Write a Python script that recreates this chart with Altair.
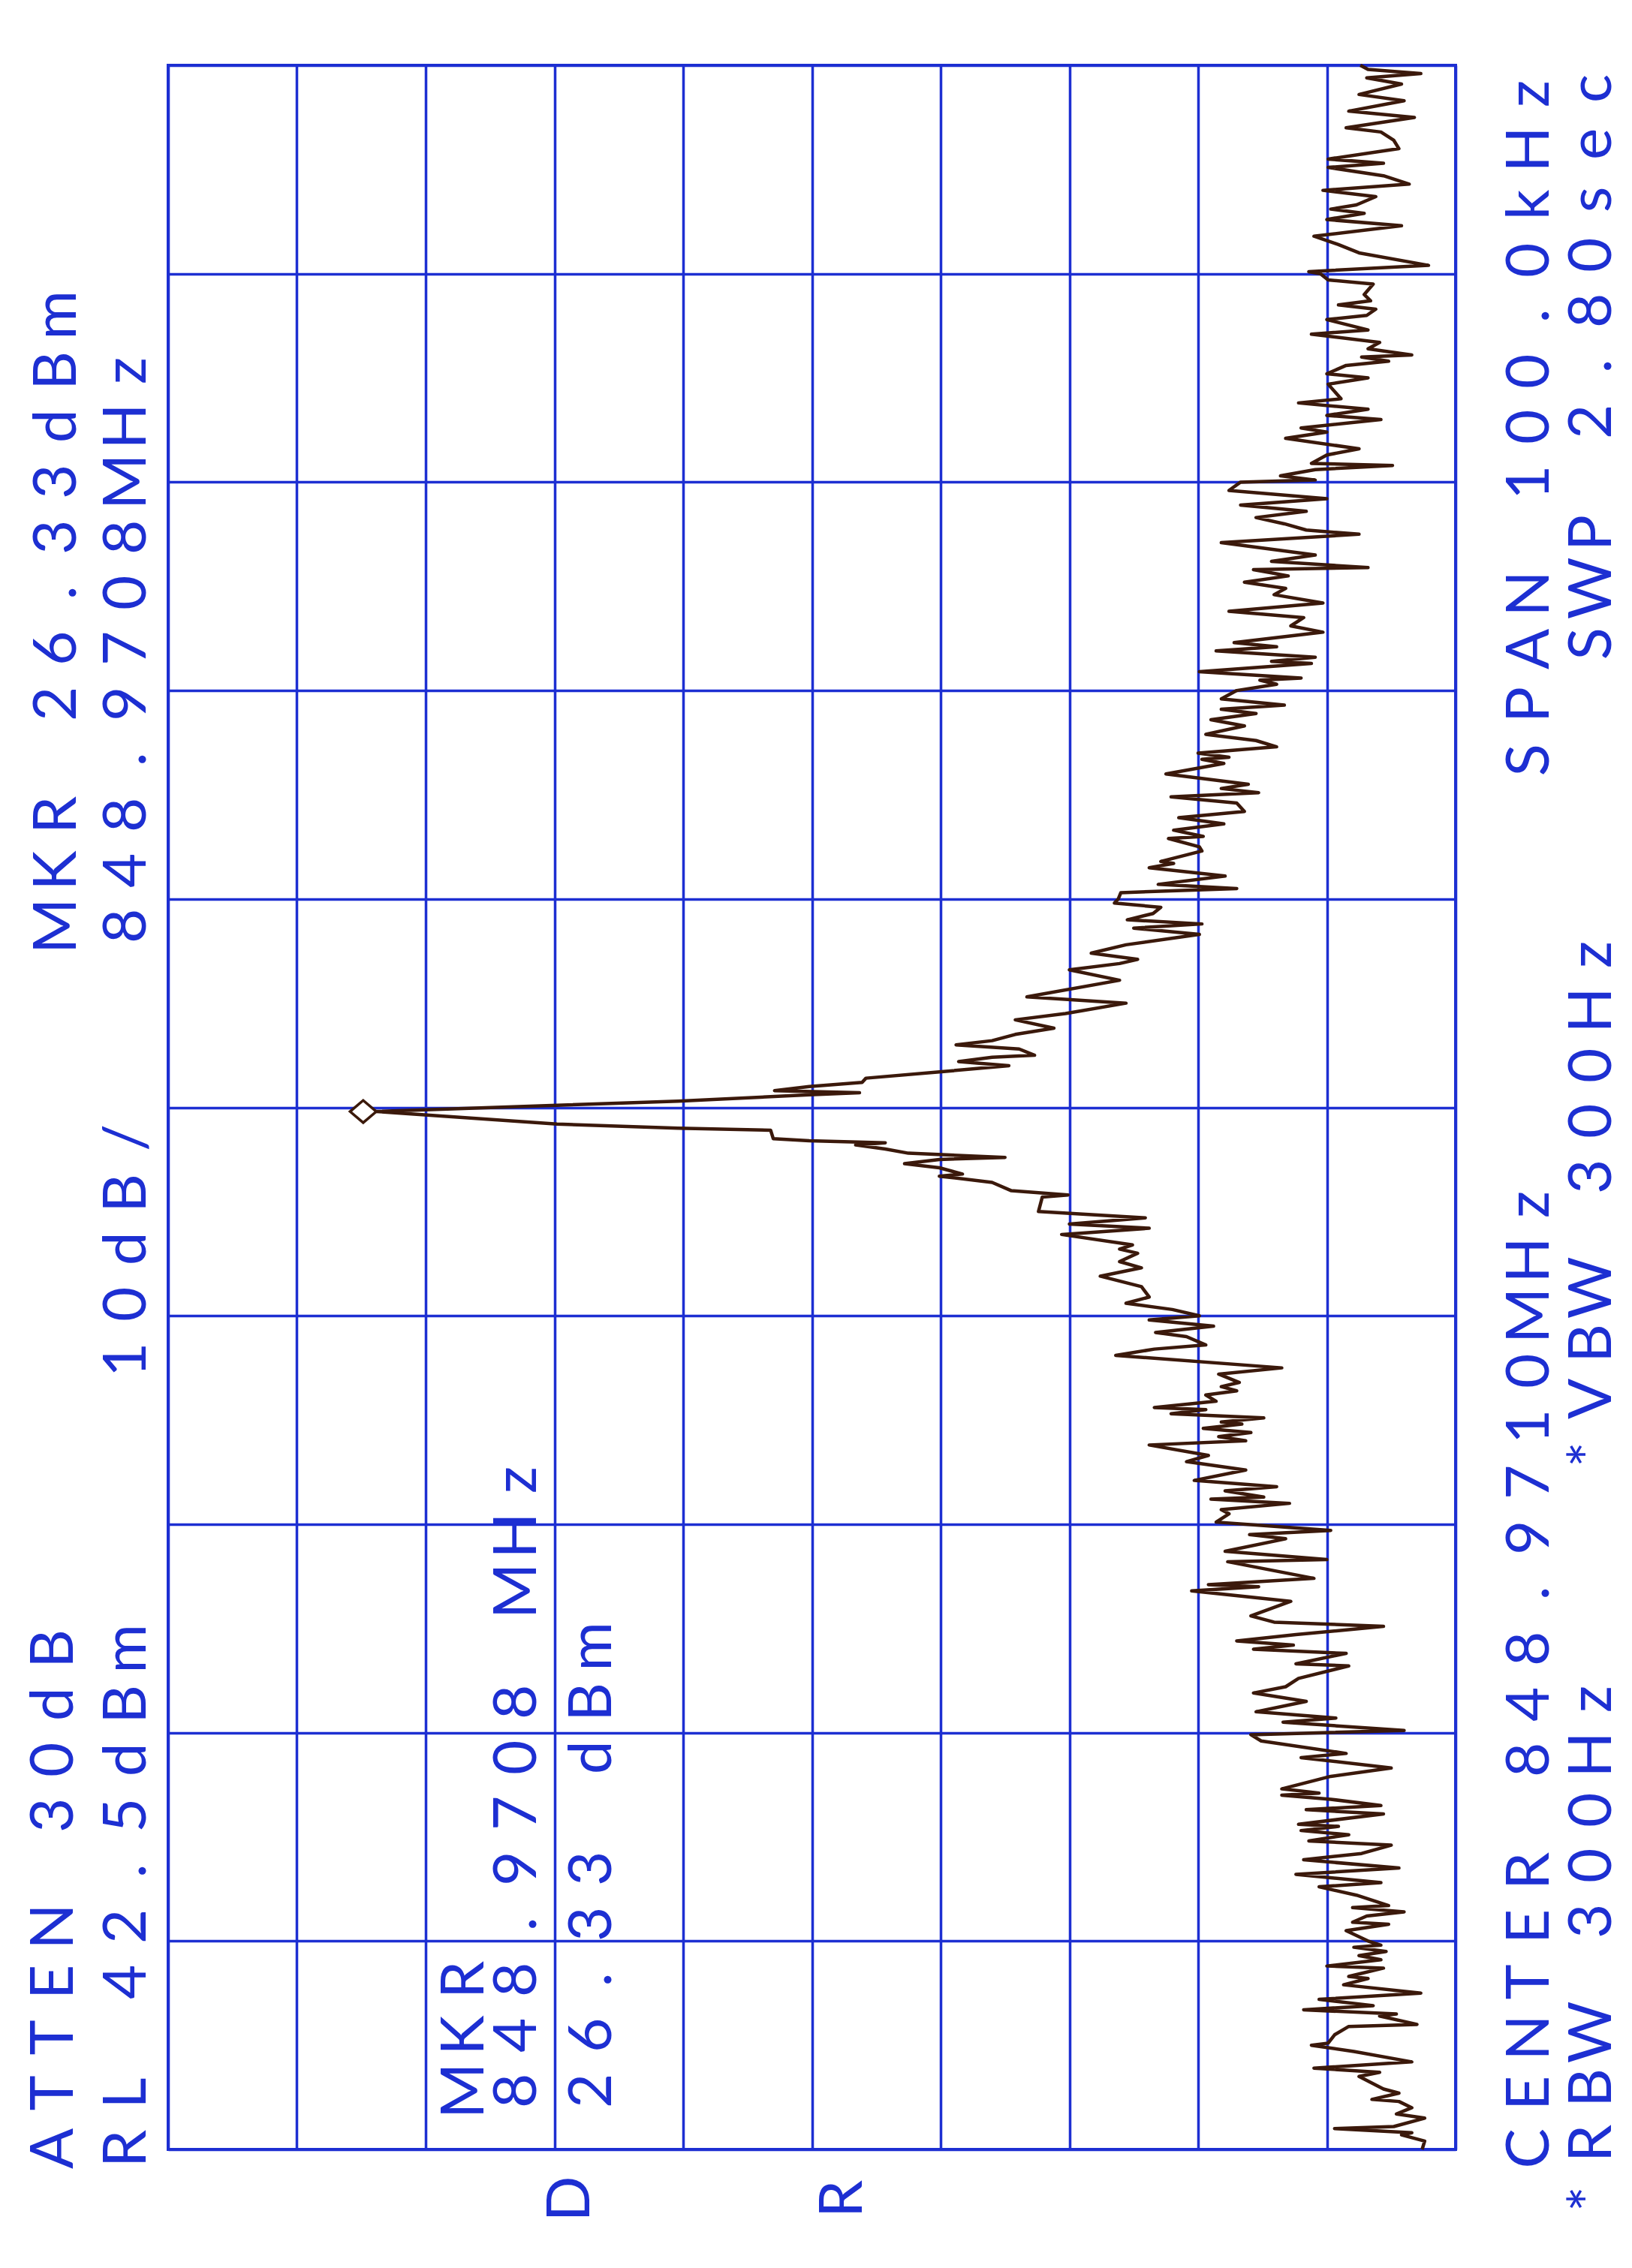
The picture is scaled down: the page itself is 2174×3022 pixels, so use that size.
import altair as alt
import pandas as pd

# ---------------- trace data ----------------
# frequency offset from centre 848.9710 MHz, in kHz (span 100 kHz)
freq_offset_khz = [
    -50.0, -49.6, -49.3, -49.2, -49.0, -48.9, -48.5, -48.3, -48.0, -47.7,
    -47.6, -47.3, -47.1, -46.5, -46.3, -46.1, -45.8, -45.3, -45.0, -44.9,
    -44.5, -44.1, -44.0, -43.6, -43.5, -43.3, -43.1, -42.8, -42.5, -42.1,
    -41.8, -41.7, -41.3, -41.2, -40.9, -40.7, -40.5, -40.3, -40.2, -40.0,
    -39.5, -39.2, -39.1, -38.8, -38.6, -38.4, -38.3, -37.8, -37.4, -37.2,
    -36.8, -36.5, -36.1, -35.8, -35.4, -35.2, -34.9, -34.7, -34.5, -34.4,
    -33.9, -33.7, -33.5, -33.2, -33.0, -32.9, -32.7, -32.1, -31.7, -31.2,
    -31.0, -30.4, -30.1,
    -29.9, -29.5, -29.3, -29.0, -28.5, -28.1, -27.8, -27.4, -26.8, -26.7,
    -26.2, -26.0, -25.8, -25.6, -25.3, -24.9, -24.7, -24.4, -23.7, -23.2,
    -23.0, -22.9, -22.6, -21.8, -21.7, -21.3, -20.7, -20.5, -20.3, -19.9,
    -19.5, -19.3, -19.0, -18.8, -18.7, -18.4, -18.2, -17.9, -17.4, -17.0,
    -16.7, -16.2, -16.0, -15.8, -15.6, -15.4, -15.2, -15.1, -14.9, -14.7,
    -14.5, -14.4, -14.1, -13.8, -13.6, -13.4, -13.2, -12.8, -12.5, -11.9,
    -11.6, -11.4, -11.0, -10.8, -10.5, -10.2, -10.0,
    -9.7, -9.4, -9.1, -8.6, -8.1, -7.7, -7.4, -7.0, -6.8, -6.6,
    -6.1, -5.8, -5.6, -5.3, -5.0, -4.3, -4.2, -4.0, -3.6, -3.3,
    -3.2, -2.9, -2.7, -2.5, -2.4, -2.2, -2.0, -1.8, -1.7, -1.6,
    -1.5, -1.1, -1.0, -0.8, -0.2,
    0.1, 0.3, 0.6, 0.7, 0.8, 1.0, 1.2, 1.4, 1.7, 2.0,
    2.2, 2.4, 2.5, 2.8, 3.0, 3.2, 3.5, 3.8, 4.2, 4.5,
    5.0, 5.3, 6.1, 6.6, 6.9, 7.1, 7.4, 7.8, 8.3, 8.6,
    8.8, 9.0, 9.3, 9.6, 9.8, 10.0,
    10.3, 10.5, 10.7, 11.1, 11.5, 11.7, 11.8, 12.3, 12.5, 12.9,
    13.0, 13.3, 13.6, 13.9, 14.2, 14.6, 14.9, 15.1, 15.3, 15.5,
    16.0, 16.5, 16.7, 16.8, 17.0, 17.3, 17.6, 17.9, 18.3, 18.6,
    18.9, 19.1, 19.3, 19.6, 20.0,
    20.3, 20.5, 20.6, 20.9, 21.3, 21.4, 21.6, 21.9, 22.1, 22.3,
    22.8, 23.1, 23.5, 23.8, 24.2, 24.6, 24.9, 25.2, 25.5, 25.8,
    25.9, 26.2, 26.5, 27.1, 27.5, 27.7, 28.0, 28.3, 28.6, 28.9,
    29.2, 29.6, 30.0,
    30.1, 30.3, 30.6, 30.8, 30.9, 31.3, 31.6, 32.1, 32.4, 32.6,
    33.0, 33.2, 33.5, 33.8, 34.0, 34.7, 35.0, 35.2, 35.6, 35.8,
    36.0, 36.1, 36.4, 36.7, 37.1, 37.3, 37.8, 38.0, 38.3, 38.5,
    38.7, 39.0, 39.5, 39.7, 40.0,
    40.1, 40.4, 41.0, 41.4, 41.8, 42.3, 42.6, 42.9, 43.1, 43.3,
    43.7, 44.0, 44.3, 44.7, 45.1, 45.3, 45.5, 46.0, 46.4, 46.8,
    47.0, 47.5, 47.8, 48.3, 48.6, 49.1, 49.4, 49.6, 49.8, 50.0,
]

level_dbm = [
    -54.9, -55.1, -53.3, -54.1, -48.1, -52.7, -55.1, -52.9, -54.1, -53.1,
    -51.0, -53.1, -51.9, -50.0, -51.6, -46.5, -54.1, -49.6, -46.3, -47.6,
    -48.1, -49.2, -54.5, -51.6, -52.9, -45.7, -51.1, -46.9, -54.8, -48.8,
    -50.7, -49.2, -51.9, -47.5, -51.7, -50.0, -52.1, -49.6, -51.7, -50.7,
    -49.0, -52.3, -49.5, -50.6, -53.5, -49.5, -52.3, -49.8, -46.9, -51.7,
    -45.1, -53.1, -45.7, -50.2, -52.5, -46.1, -49.2, -45.5, -48.4, -45.3,
    -51.9, -45.9, -51.7, -47.8, -44.0, -46.9, -44.0, -47.8, -52.5, -45.5,
    -49.0, -42.4, -41.6,
    -53.5, -44.1, -48.2, -42.0, -45.9, -41.8, -44.3, -45.3, -49.2, -45.1,
    -49.0, -41.8, -44.9, -40.5, -45.1, -51.9, -43.4, -41.6, -44.7, -37.0,
    -42.2, -38.3, -46.5, -39.8, -47.5, -39.6, -44.3, -41.5, -47.8, -38.9,
    -39.9, -39.3, -44.6, -38.5, -42.6, -39.6, -43.6, -37.2, -41.2, -36.6,
    -38.3, -33.7, -41.2, -39.1, -41.6, -37.9, -40.9, -39.3, -42.6, -35.4,
    -38.1, -34.1, -38.9, -38.1, -40.5, -39.3, -40.7, -39.1, -44.0, -31.1,
    -34.1, -38.1, -36.6, -34.2, -38.7, -33.7, -37.6,
    -35.5, -31.9, -33.7, -33.1, -29.9, -33.1, -31.4, -32.8, -31.4, -32.4,
    -26.9, -33.7, -27.5, -33.4, -25.1, -25.4, -27.4, -23.0, -21.5, -17.4,
    -19.2, -17.4, -14.7, -17.4, -22.5, -15.0, -13.2, -10.9, -13.2, -7.3,
    -4.5, -4.3, 2.9, 12.3, 26.33,
    12.3, 2.9, -7.3, -11.2, -4.6, -7.3, -11.4, -11.7, -17.4, -22.8,
    -18.9, -21.5, -24.8, -23.6, -18.7, -21.5, -23.3, -26.3, -23.3, -27.2,
    -31.9, -24.2, -31.4, -27.5, -31.4, -32.8, -29.2, -31.9, -37.6, -32.5,
    -37.8, -32.0, -34.0, -34.6, -31.0, -31.3,
    -31.5, -40.5, -34.4, -39.6, -33.7, -35.6, -34.6, -37.8, -37.6, -35.2,
    -37.9, -35.6, -39.5, -36.0, -41.1, -40.5, -35.4, -42.2, -39.3, -41.4,
    -35.0, -39.5, -37.8, -39.9, -37.5, -43.6, -42.0, -38.1, -41.1, -38.5,
    -42.0, -39.3, -44.2, -39.3, -40.5,
    -43.6, -42.3, -45.5, -37.6, -46.3, -43.2, -46.6, -38.9, -43.6, -40.3,
    -47.2, -44.7, -45.7, -39.9, -47.2, -43.4, -44.3, -41.1, -44.5, -41.8,
    -50.7, -43.2, -46.6, -39.3, -50.0, -45.9, -44.2, -42.0, -45.9, -40.8,
    -47.5, -39.9, -40.8,
    -46.6, -43.9, -46.6, -52.6, -46.3, -47.5, -50.0, -44.3, -47.5, -45.5,
    -51.7, -47.5, -50.7, -45.3, -48.6, -47.6, -50.7, -47.5, -49.0, -52.3,
    -50.2, -54.1, -50.7, -51.6, -46.3, -50.7, -47.5, -50.6, -51.3, -48.4,
    -50.9, -50.4, -51.1, -47.6, -47.0,
    -46.1, -55.4, -50.0, -48.4, -46.5, -53.3, -47.5, -50.4, -47.8, -49.8,
    -51.3, -47.2, -53.9, -51.9, -47.6, -51.9, -47.6, -53.1, -52.7, -51.7,
    -49.0, -54.3, -49.2, -53.5, -50.0, -53.3, -50.6, -54.8, -50.7, -50.1,
]

# marker
marker_offset_khz = [-0.2]
marker_level_dbm = [26.33]

# instrument settings
ref_level_dbm = 42.5
db_per_div = 10
span_khz = 100.0

# annotation texts
label_texts = [
    "ATTEN 30dB", "RL 42.5dBm", "10dB/", "MKR 26.33dBm", "848.9708MHz",
    "CENTER 848.9710MHz", "*RBW 300Hz", "*VBW 300Hz", "SPAN 100.0kHz",
    "SWP 2.80sec", "MKR", "848.9708 MHz", "26.33 dBm", "D", "R",
]

# ---------------- layout (page pixels) ----------------
PX0, PY0, PW, PH = 224, 87, 1715, 2777
BLUE = "#1d2fd2"
BROWN = "#3b190b"
PITCH = 74
# (x centre, y start) of each label on the page
label_pos = [
    (73, 2891), (170, 2891), (170, 1840), (77, 1262), (170, 1262),
    (2039, 2891), (2122, 2958), (2122, 1966), (2039, 1041),
    (2122, 886), (620, 2814), (690, 2814), (790, 2814), (761, 2958), (1124, 2958),
]

x_top = ref_level_dbm
x_bottom = ref_level_dbm - 10 * db_per_div
y_lo, y_hi = -span_khz / 2, span_khz / 2


def px_to_level(px):
    return x_top - (px - PX0) * (x_top - x_bottom) / PW


def py_to_freq(py):
    return y_hi - (py - PY0) * (y_hi - y_lo) / PH


rows = []
for text, (xc, ys) in zip(label_texts, label_pos):
    for i, ch in enumerate(text):
        if ch == " ":
            continue
        rows.append({
            "ch": ch,
            "lvl": px_to_level(xc),
            "frq": py_to_freq(ys - i * PITCH - 0.38 * PITCH),
        })
text_df = pd.DataFrame(rows)

trace_df = pd.DataFrame({
    "idx": list(range(len(level_dbm))),
    "frq": freq_offset_khz,
    "lvl": level_dbm,
})
marker_df = pd.DataFrame({"frq": marker_offset_khz, "lvl": marker_level_dbm})

x_scale = alt.Scale(domain=[x_top, x_bottom], nice=False, zero=False)
y_scale = alt.Scale(domain=[y_lo, y_hi], nice=False, zero=False)

x_axis = alt.Axis(
    values=[x_top - db_per_div * i for i in range(11)], grid=True, labels=False,
    ticks=False, domain=False, title=None, gridColor=BLUE, gridWidth=3.5,
    gridOpacity=1,
)
y_axis = alt.Axis(
    values=[y_lo + 10 * i for i in range(11)], grid=True, labels=False,
    ticks=False, domain=False, title=None, gridColor=BLUE, gridWidth=3.5,
    gridOpacity=1,
)

trace = alt.Chart(trace_df).mark_line(
    color=BROWN, strokeWidth=4.5, strokeJoin="round"
).encode(
    x=alt.X("lvl:Q", scale=x_scale, axis=x_axis),
    y=alt.Y("frq:Q", scale=y_scale, axis=y_axis),
    order="idx:Q",
)

marker = alt.Chart(marker_df).mark_point(
    shape="M 0 0 L -1 -0.85 L -2 0 L -1 0.85 Z",
    size=1225, filled=True, fill="white", stroke=BROWN, strokeWidth=3.5,
    opacity=1,
).encode(
    x=alt.X("lvl:Q", scale=x_scale),
    y=alt.Y("frq:Q", scale=y_scale),
)

texts = alt.Chart(text_df).mark_text(
    angle=270, align="center", baseline="middle", font="Lato",
    fontWeight=400, fontSize=80, color=BLUE,
).encode(
    x=alt.X("lvl:Q", scale=x_scale),
    y=alt.Y("frq:Q", scale=y_scale),
    text="ch:N",
)

chart = alt.layer(trace, marker, texts).properties(
    width=PW, height=PH,
    autosize=alt.AutoSizeParams(type="none"),
    padding={"left": PX0 - 8, "top": PY0 - 8, "right": 226, "bottom": 120},
    background="white",
).configure_view(stroke=BLUE, strokeWidth=4)

chart.save("out.html", embed_options={"renderer": "svg", "actions": False})
